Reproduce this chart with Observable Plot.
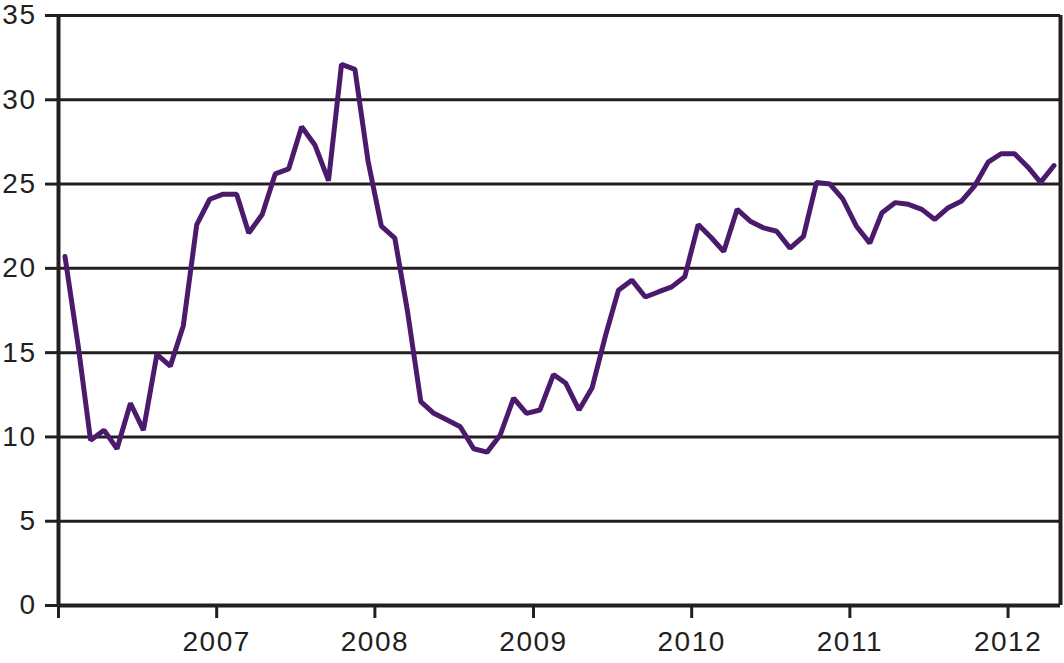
<!DOCTYPE html>
<html>
<head>
<meta charset="utf-8">
<script src="https://cdn.jsdelivr.net/npm/d3@7"></script>
<script src="https://cdn.jsdelivr.net/npm/@observablehq/plot@0.6"></script>
<style>
  html, body { margin: 0; padding: 0; background: #ffffff; }
  #chart { width: 1064px; height: 663px; }
  #chart svg text { letter-spacing: 1.5px; }
</style>
</head>
<body>
<div id="chart"></div>
<script>
// Monthly values, January 2006 to April 2012
const startYear = 2006;
const values = [
  20.7, 15.3, 9.8, 10.4, 9.3, 12.0, 10.4, 14.9, 14.2, 16.6, 22.6, 24.1,   // 2006
  24.4, 24.4, 22.1, 23.2, 25.6, 25.9, 28.4, 27.3, 25.2, 32.1, 31.8, 26.4, // 2007
  22.5, 21.8, 17.5, 12.1, 11.4, 11.0, 10.6, 9.3, 9.1, 10.1, 12.3, 11.4,   // 2008
  11.6, 13.7, 13.2, 11.6, 12.9, 16.0, 18.7, 19.3, 18.3, 18.6, 18.9, 19.5, // 2009
  22.6, 21.8, 21.0, 23.5, 22.8, 22.4, 22.2, 21.2, 21.9, 25.1, 25.0, 24.1, // 2010
  22.5, 21.5, 23.3, 23.9, 23.8, 23.5, 22.9, 23.6, 24.0, 24.9, 26.3, 26.8, // 2011
  26.8, 26.0, 25.1, 26.1                                                  // 2012
];
const yTicks = [0, 5, 10, 15, 20, 25, 30, 35];
const gridValues = [5, 10, 15, 20, 25, 30, 35];
const tickYears = [2006, 2007, 2008, 2009, 2010, 2011, 2012];
const yearLabels = ["", "2007", "2008", "2009", "2010", "2011", "2012"];

const start = new Date(Date.UTC(startYear, 0, 1));
const end = new Date(Date.UTC(2012, 4, 1));
const data = values.map((v, i) => ({
  date: d3.utcDay.offset(d3.utcMonth.offset(start, i), 15),
  value: v
}));
const yearDates = tickYears.map(y => new Date(Date.UTC(y, 0, 1)));

const ink = "#231f20";
const chart = Plot.plot({
  width: 1064,
  height: 663,
  marginLeft: 58,
  marginRight: 4,
  marginTop: 15,
  marginBottom: 58,
  style: {
    fontFamily: "'Liberation Sans', Arial, Helvetica, sans-serif",
    fontSize: "28px",
    color: ink,
    background: "#ffffff"
  },
  x: { type: "utc", domain: [start, end] },
  y: { domain: [0, 35] },
  marks: [
    Plot.ruleY(gridValues, { stroke: ink, strokeWidth: 3 }),
    Plot.axisY(yTicks, {
      tickSize: 13, tickPadding: 9, strokeWidth: 3, fontSize: 28,
      label: null, stroke: ink, fill: ink
    }),
    Plot.axisX(yearDates, {
      tickSize: 13, tickPadding: 13, strokeWidth: 3, fontSize: 28,
      label: null, stroke: ink, fill: ink,
      tickFormat: d => yearLabels[tickYears.indexOf(d.getUTCFullYear())]
    }),
    Plot.lineY(data, { x: "date", y: "value", stroke: "#4b1a6c", strokeWidth: 5, strokeLinejoin: "miter" }),
    Plot.ruleX([start], { stroke: ink, strokeWidth: 4 }),
    Plot.ruleX([end], { stroke: ink, strokeWidth: 4 }),
    Plot.ruleY([0], { stroke: ink, strokeWidth: 4 })
  ]
});
document.getElementById("chart").appendChild(chart);
</script>
</body>
</html>
